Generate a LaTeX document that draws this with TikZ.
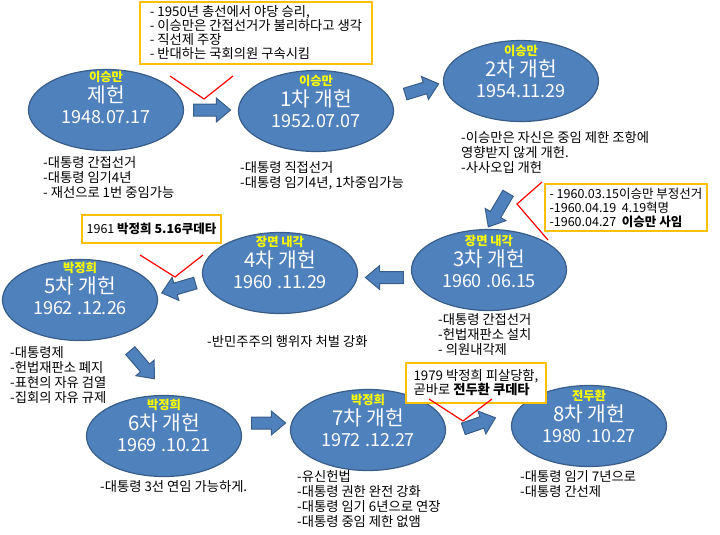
\documentclass[tikz,border=0pt]{standalone}
\usepackage{fontspec}
\setmainfont{Noto Sans CJK KR}
\usetikzlibrary{shapes.geometric,shapes.arrows,calc}
\definecolor{eblue}{HTML}{4F81BD}
\definecolor{eline}{HTML}{385D8A}
\definecolor{boxline}{HTML}{FFC000}
\definecolor{ylabel}{HTML}{FFFF00}
\newcommand{\eraname}[1]{{\color{ylabel}\fontsize{12.3}{13}\selectfont\bfseries #1}}
\newcommand{\eradate}[1]{{\fontsize{18}{21}\selectfont #1}}
\begin{document}
\begin{tikzpicture}
[x=1pt,y=-1pt,
era/.style = {draw=eline, fill=eblue, ellipse, line width=1.2pt, minimum width=155pt, minimum height=81pt, inner sep=0pt},
eratext/.style = {text=white, align=center, inner sep=0pt, font=\fontsize{20.3}{21}\selectfont},
note/.style = {anchor=north west, align=left, inner sep=0pt, font=\fontsize{13.3}{15}\selectfont},
callout/.style = {draw=boxline, fill=white, line width=1.3pt, inner sep=0pt, align=left, font=\fontsize{13.3}{14}\selectfont},
blockarrow/.style = {single arrow, draw=eline, fill=eblue, line width=1pt, inner sep=5.5pt, single arrow head extend=6pt, single arrow tip angle=80},
pointer/.style = {draw=red, line width=1.2pt},]
\useasboundingbox (0,0) rectangle (720,535);
\node (e0) at (106,110)[era] {};
\node (e1) at (316,111)[era] {};
\node (e2) at (521,81)[era] {};
\node (e3) at (489,270)[era] {};
\node (e4) at (280,273)[era] {};
\node (e5) at (80,300)[era] {};
\node (e6) at (164,436)[era] {};
\node (e7) at (368,430)[era] {};
\node (e8) at (589,426)[era] {};
\node at ($(e0)+(0,-13)$)[eratext] {\eraname{이승만}\\제헌\\\eradate{1948.07.17}};
\node at ($(e1)+(0,-10)$)[eratext] {\eraname{이승만}\\1차 개헌\\\eradate{1952.07.07}};
\node at ($(e2)+(0,-10)$)[eratext] {\eraname{이승만}\\2차 개헌\\\eradate{1954.11.29}};
\node at ($(e3)+(0,-9)$)[eratext] {\eraname{장면 내각}\\3차 개헌\\\eradate{1960 .06.15}};
\node at ($(e4)+(0,-11)$)[eratext] {\eraname{장면 내각}\\4차 개헌\\\eradate{1960 .11.29}};
\node at ($(e5)+(0,-12)$)[eratext] {\eraname{박정희}\\5차 개헌\\\eradate{1962 .12.26}};
\node at ($(e6)+(0,-11)$)[eratext] {\eraname{박정희}\\6차 개헌\\\eradate{1969 .10.21}};
\node at ($(e7)+(0,-10)$)[eratext] {\eraname{박정희}\\7차 개헌\\\eradate{1972 .12.27}};
\node at ($(e8)+(0,-10)$)[eratext] {\eraname{전두환}\\8차 개헌\\\eradate{1980 .10.27}};
% block arrows
\node (a01) at (208.5,110)[blockarrow, minimum height=37pt] {};
\node (a12) at (418.5,90)[blockarrow, minimum height=35pt, rotate=17] {};
\node (a23) at (500,207)[blockarrow, minimum height=39pt, rotate=239.5] {};
\node (a34) at (388,277.5)[blockarrow, minimum height=38pt, rotate=180] {};
\node (a45) at (182,287)[blockarrow, minimum height=35pt, rotate=196.4] {};
\node (a56) at (140,362)[blockarrow, minimum height=37pt, rotate=-49.4] {};
\node (a67) at (265,423)[blockarrow, minimum height=34pt] {};
\node (a78) at (476,424.5)[blockarrow, minimum height=34pt, rotate=19] {};
% notes
\node (n0) at (43,156)[note] {-대통령 간접선거\\-대통령 임기4년\\- 재선으로 1번 중임가능};
\node (n1) at (240,161)[note] {-대통령 직접선거\\-대통령 임기4년, 1차중임가능};
\node (n2) at (461,131)[note] {-이승만은 자신은 중임 제한 조항에\\영향받지 않게 개헌.\\-사사오입 개헌};
\node (n3) at (438,313)[note] {-대통령 간접선거\\-헌법재판소 설치\\- 의원내각제};
\node (n4) at (207,335)[note] {-반민주주의 행위자 처벌 강화};
\node (n5) at (10,346)[note] {-대통령제\\-헌법재판소 폐지\\-표현의 자유 검열\\-집회의 자유 규제};
\node (n6) at (100,480)[note] {-대통령 3선 연임 가능하게.};
\node (n7) at (297,470)[note] {-유신헌법\\-대통령 권한 완전 강화\\-대통령 임기 6년으로 연장\\-대통령 중임 제한 없앰};
\node (n8) at (520,470)[note] {-대통령 임기 7년으로\\-대통령 간선제};
% callouts
\node (c1) at (256,33)[callout, minimum width=232pt, minimum height=62pt] {- 1950년 총선에서 야당 승리,\\- 이승만은 간접선거가 불리하다고 생각\\- 직선제 주장\\- 반대하는 국회의원 구속시킴};
\node (c2) at (626,207.5)[callout, minimum width=162pt, minimum height=47pt, font=\fontsize{12.5}{14}\selectfont] {- 1960.03.15이승만 부정선거\\-1960.04.19\ \ 4.19혁명\\-1960.04.27\ \ \textbf{이승만 사임}};
\node (c3) at (151.5,229)[callout, minimum width=139pt, minimum height=28pt, font=\fontsize{12.5}{14}\selectfont] {1961 \textbf{박정희 5.16쿠데타}};
\node (c4) at (476,383)[callout, minimum width=140pt, minimum height=40pt] {1979 박정희 피살당함,\\곧바로 \textbf{전두환 쿠데타}};
\draw[pointer] (170,76) -- (204,99) -- (233,76);
\draw[pointer] (542,182) -- (517,204) -- (548,240);
\draw[pointer] (140,255) -- (175,277) -- (203,255);
\draw[pointer] (429,399) -- (463,421) -- (492,399);
\end{tikzpicture}
\end{document}
